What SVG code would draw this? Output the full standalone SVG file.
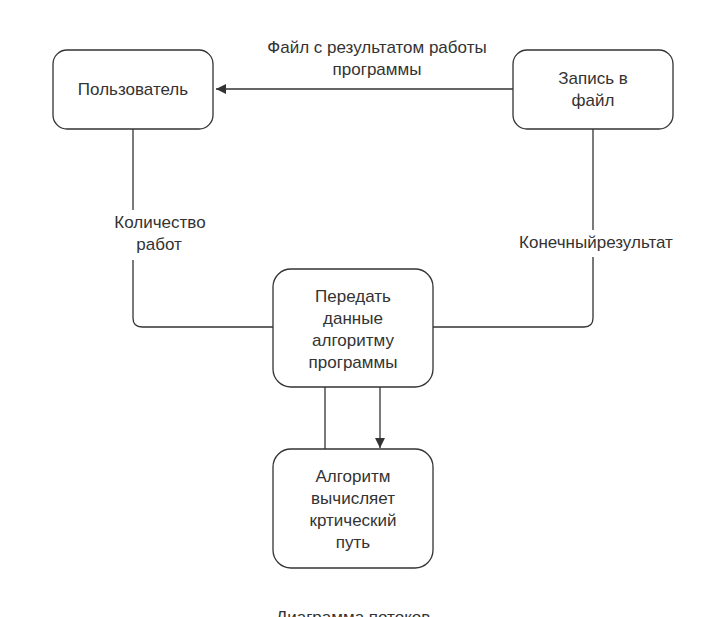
<svg xmlns="http://www.w3.org/2000/svg" width="726" height="617" viewBox="0 0 726 617">
<style>
.box{fill:#fff;stroke:#333;stroke-width:1.3}
.t{font-family:"Liberation Sans",Arial,sans-serif;font-size:17px;fill:#333;text-anchor:middle}
.c{fill:none;stroke:#333;stroke-width:1.3}
</style>
<defs>
<marker id="arr" viewBox="0 0 10 10" refX="10" refY="5" markerWidth="10" markerHeight="10" markerUnits="userSpaceOnUse" orient="auto">
<path d="M0,0 L10,5 L0,10 z" fill="#333"/>
</marker>
</defs>
<rect width="726" height="617" fill="#fff"/>
<g id="connectors">
<path class="c" d="M513,89 H216" marker-end="url(#arr)"/>
<path class="c" d="M133,129 V210"/>
<path class="c" d="M133,260 V318 Q133,327 142,327 H273"/>
<path class="c" d="M593,129 V230"/>
<path class="c" d="M593,257 V318 Q593,327 584,327 H433"/>
<path class="c" d="M325,387 V449"/>
<path class="c" d="M380,387 V448" marker-end="url(#arr)"/>
</g>
<g id="labels">
<text class="t" x="377" y="53">Файл с результатом работы</text>
<text class="t" x="377" y="75">программы</text>
<text class="t" x="160" y="228">Количество</text>
<text class="t" x="159" y="250">работ</text>
<text class="t" x="596" y="248">Конечныйрезультат</text>
<text class="t" x="353" y="623">Диаграмма потоков</text>
</g>
<g id="polzovatel">
<rect class="box" x="53" y="50" width="160" height="79" rx="14"/>
<text class="t" x="133" y="95">Пользователь</text>
</g>
<g id="zapis">
<rect class="box" x="513" y="50" width="160" height="79" rx="14"/>
<text class="t" x="593" y="84">Запись в</text>
<text class="t" x="593" y="106">файл</text>
</g>
<g id="peredat">
<rect class="box" x="273" y="269" width="160" height="118" rx="18"/>
<text class="t" x="353" y="302">Передать</text>
<text class="t" x="353" y="324">данные</text>
<text class="t" x="353" y="346">алгоритму</text>
<text class="t" x="353" y="368">программы</text>
</g>
<g id="algoritm">
<rect class="box" x="273" y="449" width="160" height="119" rx="18"/>
<text class="t" x="353" y="482">Алгоритм</text>
<text class="t" x="353" y="504">вычисляет</text>
<text class="t" x="353" y="526">кртический</text>
<text class="t" x="353" y="548">путь</text>
</g>
</svg>
